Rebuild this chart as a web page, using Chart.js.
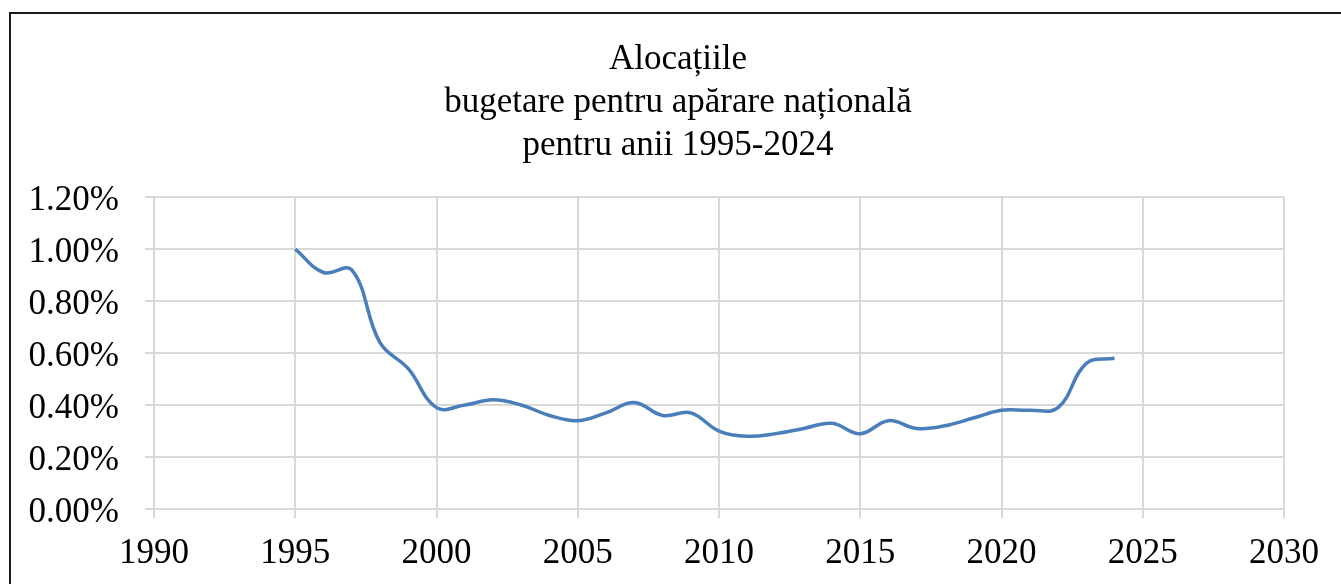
<!DOCTYPE html>
<html>
<head>
<meta charset="utf-8">
<script src="https://cdn.jsdelivr.net/npm/chart.js@4"></script>
<style>
    html, body { margin: 0; padding: 0; background: #fff; overflow: hidden; }
    #frame {
        position: absolute; left: 9px; top: 12px;
        width: 1400px; height: 700px;
        border-left: 2px solid #1a1a1a; border-top: 2px solid #1a1a1a;
    }
    #wrap { position: absolute; left: 0; top: 0; width: 1341px; height: 584px; }
</style>
</head>
<body>
<div id="frame"></div>
<div id="wrap"><canvas id="budgetChart" width="1341" height="584"></canvas></div>
<script>
// Alocațiile bugetare pentru apărare națională, %
const years = [1995, 1996, 1997, 1998, 1999, 2000, 2001, 2002, 2003, 2004,
               2005, 2006, 2007, 2008, 2009, 2010, 2011, 2012, 2013, 2014,
               2015, 2016, 2017, 2018, 2019, 2020, 2021, 2022, 2023, 2024];
const alocatii = [1.00, 0.91, 0.92, 0.64, 0.54, 0.39, 0.40, 0.42, 0.40, 0.36,
                  0.34, 0.37, 0.41, 0.36, 0.37, 0.30, 0.28, 0.29, 0.31, 0.33,
                  0.29, 0.34, 0.31, 0.32, 0.35, 0.38, 0.38, 0.39, 0.56, 0.58];
const xTicks = [1990, 1995, 2000, 2005, 2010, 2015, 2020, 2025, 2030];
const yTicks = [0, 0.2, 0.4, 0.6, 0.8, 1.0, 1.2];
const titleLines = ['Alocațiile', 'bugetare pentru apărare națională', 'pentru anii 1995-2024'];

const serif = "'Liberation Serif', 'Times New Roman', serif";
const gridColor = '#d9d9d9';

// axa y e îngustă ca titlul să fie centrat ca în original;
// lărgim zona de decupare a etichetelor după layout
const unclipYLabels = {
    id: 'unclipYLabels',
    afterLayout(chart) { chart.scales.y.left = 0; }
};

const ctx = document.getElementById('budgetChart').getContext('2d');
new Chart(ctx, {
    type: 'line',
    data: {
        datasets: [{
            data: years.map((y, i) => ({ x: y, y: alocatii[i] })),
            borderColor: '#4a7ebb',
            borderWidth: 3.5,
            pointRadius: 0,
            fill: false,
            tension: 0.4
        }]
    },
    options: {
        responsive: false,
        animation: false,
        layout: { padding: { left: 72, right: 57, top: 0, bottom: 0 } },
        plugins: {
            legend: { display: false },
            tooltip: { enabled: false },
            title: {
                display: true,
                text: titleLines,
                color: '#000',
                font: { family: serif, size: 35, weight: 'normal', lineHeight: 1.23 },
                padding: { top: 38, bottom: 30 }
            }
        },
        scales: {
            x: {
                type: 'linear',
                min: xTicks[0],
                max: xTicks[xTicks.length - 1],
                afterBuildTicks: axis => { axis.ticks = xTicks.map(v => ({ value: v })); },
                afterFit: axis => { axis.height = 75; },
                ticks: {
                    color: '#000',
                    font: { family: serif, size: 35 },
                    padding: 15,
                    maxRotation: 0,
                    callback: v => String(v)
                },
                grid: { color: gridColor, lineWidth: 2, tickLength: 9 },
                border: { color: gridColor, width: 2 }
            },
            y: {
                min: 0,
                max: 1.2,
                afterBuildTicks: axis => { axis.ticks = yTicks.map(v => ({ value: v })); },
                afterFit: axis => { axis.width = 82; },
                ticks: {
                    color: '#000',
                    font: { family: serif, size: 35 },
                    padding: 26,
                    labelOffset: 4,
                    callback: v => v.toFixed(2) + '%'
                },
                grid: { color: gridColor, lineWidth: 2, tickLength: 9 },
                border: { color: gridColor, width: 2 }
            }
        }
    },
    plugins: [unclipYLabels]
});
</script>
</body>
</html>
